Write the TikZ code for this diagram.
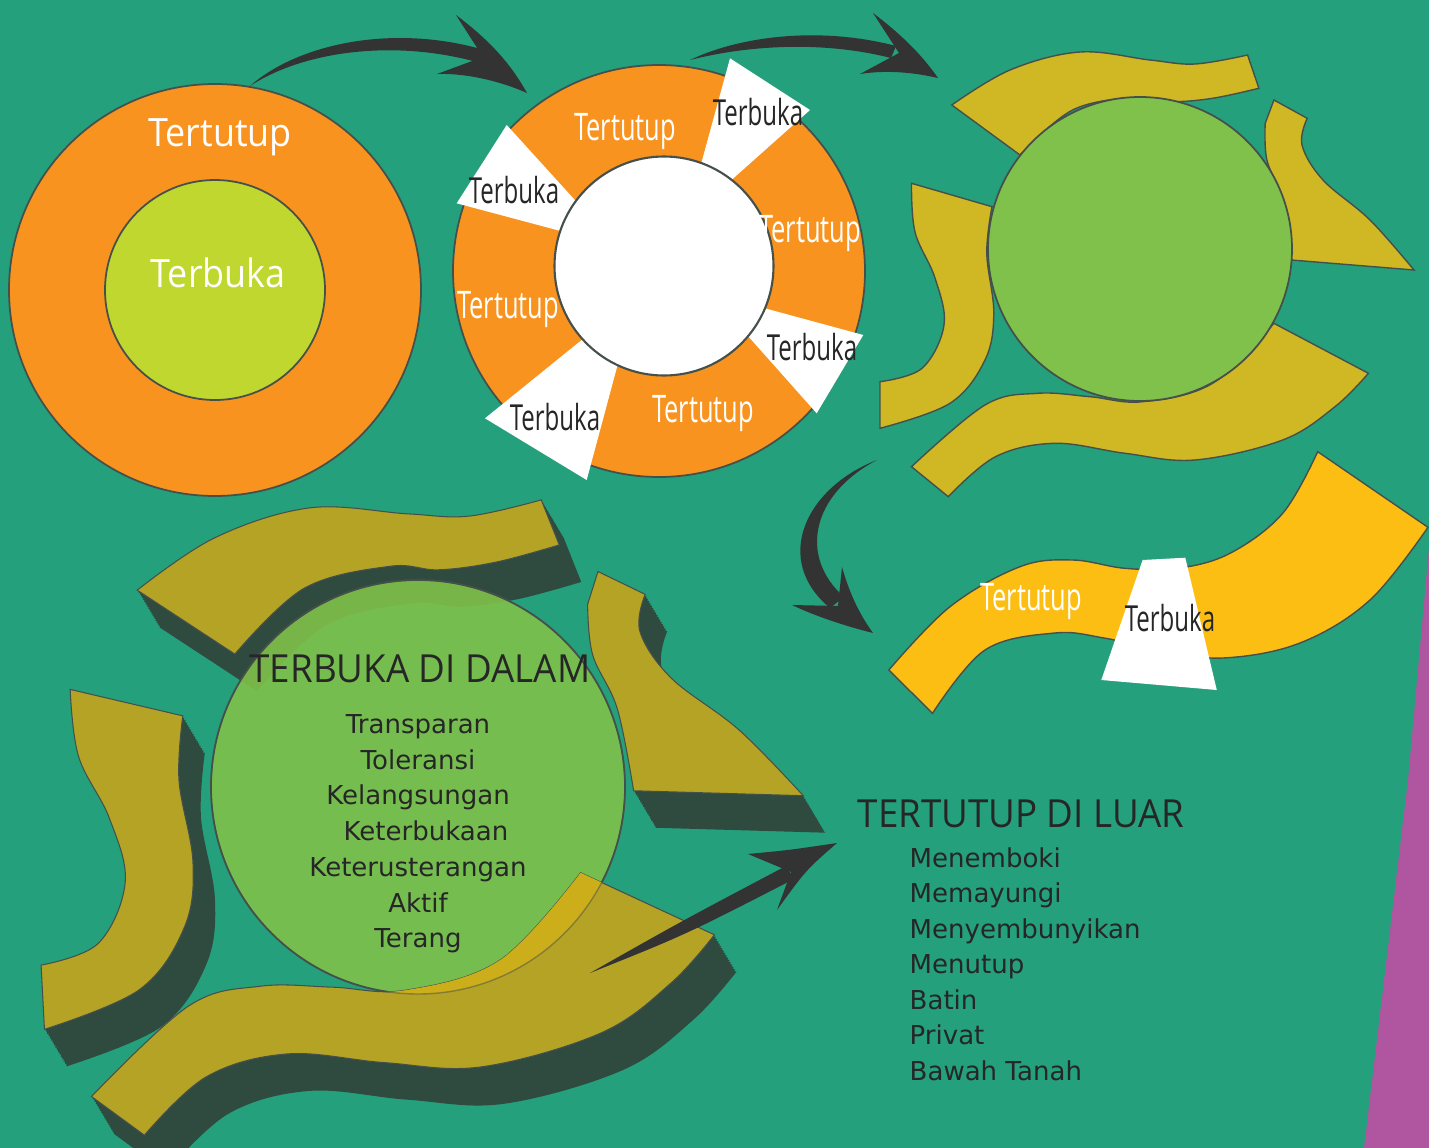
\documentclass[tikz,border=0pt]{standalone}
\usepackage{fontspec}
\setmainfont{Open Sans}
\newfontfamily\ringfont[FakeStretch=0.92]{Open Sans}
\newfontfamily\condfont[FakeStretch=0.67]{Open Sans}
\newfontfamily\headfont[FakeStretch=0.95]{Open Sans}
\newfontfamily\listfont{DejaVu Sans}

\definecolor{bgteal}{RGB}{36,160,124}
\definecolor{edgepurple}{RGB}{176,85,160}
\definecolor{ringorange}{RGB}{247,147,30}
\definecolor{corelime}{RGB}{192,215,47}
\definecolor{leafgreen}{RGB}{128,193,75}
\definecolor{mustard}{RGB}{208,184,37}
\definecolor{bandyellow}{RGB}{253,190,20}
\definecolor{faceolive}{RGB}{181,163,38}
\definecolor{overlapgold}{RGB}{204,174,26}
\definecolor{sidedark}{RGB}{47,74,63}
\definecolor{arrowgray}{RGB}{51,51,51}
\definecolor{linegray}{RGB}{70,80,75}
\definecolor{textdark}{RGB}{38,38,38}

% swoosh outlines of the upper right group
\newcommand{\swTop}{plot[smooth, tension=0.6] coordinates {(951.8,105) (1010,70) (1080,52) (1150,60) (1195,64) (1247.6,55)}
  -- plot[smooth, tension=0.6] coordinates {(1258.9,88.3) (1212.6,98.3) (1170.6,101.7) (1135.6,97.3) (1072.6,110) (1020,155)} -- cycle}
\newcommand{\swRight}{(1273.9,100) -- plot[smooth, tension=0.6] coordinates {(1307.2,118.3) (1302,145) (1323,180) (1370,220) (1414,270)}
  -- plot[smooth, tension=0.6] coordinates {(1291.4,260) (1282.7,200) (1266.9,160) (1265.2,123.3)} -- cycle}
\newcommand{\swLeft}{(911.5,183.3) -- plot[smooth, tension=0.6] coordinates {(992,206.7) (986.8,253.3) (993.8,313.3) (985,360) (950,403.3) (880,428.3)}
  -- plot[smooth, tension=0.6] coordinates {(880,381.7) (922,368.3) (944,325) (935,278) (915,232) (911.5,183.3)} -- cycle}
\newcommand{\swBottom}{(911.5,466.7) -- plot[smooth, tension=0.6] coordinates {(948.3,496.7) (995.5,456.7) (1055,443.3) (1125,453.3) (1195,460) (1282.7,440) (1335,406.7) (1368.4,373.3)}
  -- plot[smooth, tension=0.6] coordinates {(1273.9,323.3) (1212.6,383.3) (1142.6,401.7) (1090,396.7) (1037.6,393.3) (985,405) (911.5,466.7)} -- cycle}
\newcommand{\bandPath}{plot[smooth, tension=0.6] coordinates {(888.8,670) (950,606.7) (1020,566.7) (1072.6,560) (1125,568.3) (1177.6,568.3) (1230,553.3) (1282.7,513.3) (1317.7,451.7)}
  -- plot[smooth, tension=0.6] coordinates {(1428,527.3) (1370,600) (1300,643) (1223,658) (1160,650) (1104,638) (1055,633) (985,650) (932.5,713.3)} -- cycle}

\begin{document}
\begin{tikzpicture}
  [x=0.01cm, y=-0.01cm,
   ring/.style={fill=ringorange, draw=linegray, line width=0.5pt},
   core/.style={fill=corelime, draw=linegray, line width=0.5pt},
   hole/.style={fill=white, draw=linegray, line width=0.6pt},
   leaf/.style={fill=leafgreen, draw=linegray, line width=0.5pt},
   swoosh/.style={fill=mustard, draw=linegray, line width=0.4pt},
   band/.style={fill=bandyellow, draw=linegray, line width=0.4pt},
   face/.style={fill=faceolive, draw=linegray, line width=0.3pt},
   arrowfill/.style={fill=arrowgray},
   lowgroup/.style={shift={(407,775)}, rotate=3, scale=1.38, shift={(-1140,-249)}},
   offL/.style={shift={(-12,-9)}},
   offR/.style={shift={(12,9)}},
   offB/.style={shift={(-12,3)}},
   bigtxt/.style={inner sep=0pt, anchor=base, text=white, font={\ringfont\fontsize{11.1}{13}\selectfont}},
   opentxt/.style={inner sep=0pt, anchor=base, text=textdark, font={\condfont\fontsize{10.2}{12}\selectfont}},
   closedtxt/.style={inner sep=0pt, anchor=base, text=white, font={\condfont\fontsize{10.8}{12}\selectfont}},
   headtxt/.style={inner sep=0pt, anchor=base, text=textdark, font={\headfont\fontsize{11}{13}\selectfont}},
   listtxt/.style={inner sep=0pt, anchor=base, text=textdark, font={\listfont\fontsize{7.4}{9}\selectfont}}]

  \useasboundingbox (0,0) rectangle (1429,1148);
  \fill[bgteal] (0,0) rectangle (1429,1148);
  \fill[edgepurple] (1429,548) -- (1408,780) -- (1364,1148) -- (1429,1148) -- cycle;

  % Ring one
  \path[ring] (215,290) circle[radius=206];
  \path[core] (215,290) circle[radius=110];
  \node[bigtxt] (out1) at (220,146) {Tertutup};
  \node[bigtxt] (in1) at (218,287) {Terbuka};

  % Ring two with open gaps
  \path[ring] (659,271) circle[radius=206];
  \fill[white] (730,58.3) -- (810,110) -- (710.3,198.8) -- (693.2,192.7) -- cycle
    (506.7,125) -- (593.3,220.3) -- (586.7,238) -- (456.7,203.3) -- cycle
    (735.5,300.3) -- (863.3,335) -- (816.7,413.3) -- (732,318) -- cycle
    (485,418.3) -- (610.7,316.5) -- (625.7,334.8) -- (586.7,480) -- cycle;
  \path[hole] (664,266) circle[radius=109.5];
  \node[closedtxt] (c1) at (625,140) {Tertutup};
  \node[closedtxt] (c2) at (810,242) {Tertutup};
  \node[closedtxt] (c3) at (508,318) {Tertutup};
  \node[closedtxt] (c4) at (703,422) {Tertutup};
  \node[opentxt] (o1) at (758,125) {Terbuka};
  \node[opentxt] (o2) at (514,203) {Terbuka};
  \node[opentxt] (o3) at (812,360) {Terbuka};
  \node[opentxt] (o4) at (555,430) {Terbuka};

  % Swooshes round the green core
  \path[swoosh] \swTop;
  \path[swoosh] \swRight;
  \path[swoosh] \swLeft;
  \path[swoosh] \swBottom;
  \path[leaf] (1140,249) circle[radius=152];

  % Yellow band
  \path[band] \bandPath;
  \fill[white] (1142.6,560) -- (1185.3,557.7) -- (1216.8,690) -- (1101.3,680) -- cycle;
  \node[closedtxt] (b1) at (1031,610) {Tertutup};
  \node[opentxt] (b2) at (1170,631) {Terbuka};

  % Extruded swooshes, lower left
  \foreach \t in {0,...,16}{
    \begin{scope}[shift={(22*\t/16,37*\t/16)}, lowgroup]
      \fill[sidedark] \swTop;
      \fill[sidedark, offR] \swRight;
      \fill[sidedark, offL] \swLeft;
      \fill[sidedark, offB] \swBottom;
    \end{scope}
  }
  \begin{scope}[lowgroup]
    \path[face] \swTop;
    \path[face, offR] \swRight;
    \path[face, offL] \swLeft;
  \end{scope}
  \path[leaf, fill opacity=0.9] (418,787) circle[radius=207];
  \begin{scope}[lowgroup]
    \path[face, offB] \swBottom;
  \end{scope}
  \begin{scope}
    \clip (418,787) circle[radius=207];
    \begin{scope}[lowgroup]
      \fill[overlapgold, offB] \swBottom;
    \end{scope}
  \end{scope}
  \draw[linegray, draw opacity=0.5, line width=0.4pt] (418,787) circle[radius=207];

  % Texts
  \node[headtxt] (dalam) at (420,682) {TERBUKA DI DALAM};
  \foreach \txt/\dx [count=\i] in {Transparan/0, Toleransi/0, Kelangsungan/0, Keterbukaan/8, Keterusterangan/0, Aktif/0, Terang/0}
    \node[listtxt] (dalam\i) at ({418+\dx},{733.5+35.7*(\i-1)}) {\txt};

  \node[headtxt, anchor=base west] (luar) at (857,827) {TERTUTUP DI LUAR};
  \foreach \txt [count=\i] in {Menemboki, Memayungi, Menyembunyikan, Menutup, Batin, Privat, Bawah Tanah}
    \node[listtxt, anchor=base west] (luar\i) at (909,{867+35.5*(\i-1)}) {\txt};

  % Arrows
  \fill[arrowfill] (250,86) .. controls (300,42) and (400,22) .. (494,53)
    -- (487,65) .. controls (400,38) and (305,50) .. (250,86) -- cycle;
  \fill[arrowfill] (456,15) .. controls (492,42) and (512,66) .. (527,93)
    .. controls (500,81) and (466,73) .. (437,74) -- (483,57) -- cycle;

  \fill[arrowfill] (690,60) .. controls (740,36) and (820,26) .. (896,46)
    -- (891,58) .. controls (820,40) and (745,46) .. (690,60) -- cycle;
  \fill[arrowfill] (873,13) .. controls (902,35) and (922,55) .. (938,78)
    .. controls (912,72) and (885,70) .. (860,74) -- (899,53) -- cycle;

  \fill[arrowfill] (877,460) .. controls (805,488) and (772,560) .. (830,608)
    -- (844,597) .. controls (798,556) and (812,494) .. (877,460) -- cycle;
  \fill[arrowfill] (842,567) .. controls (850,595) and (860,615) .. (873,633)
    .. controls (845,626) and (815,616) .. (792,605) -- (838,606) -- cycle;

  \fill[arrowfill] (590,973) .. controls (680,922) .. (786,866)
    -- (794,879) .. controls (685,935) .. (590,973) -- cycle;
  \fill[arrowfill] (748,854) .. controls (790,850) .. (837,843)
    .. controls (806,870) .. (777,910) -- (791,872) -- cycle;
\end{tikzpicture}
\end{document}
